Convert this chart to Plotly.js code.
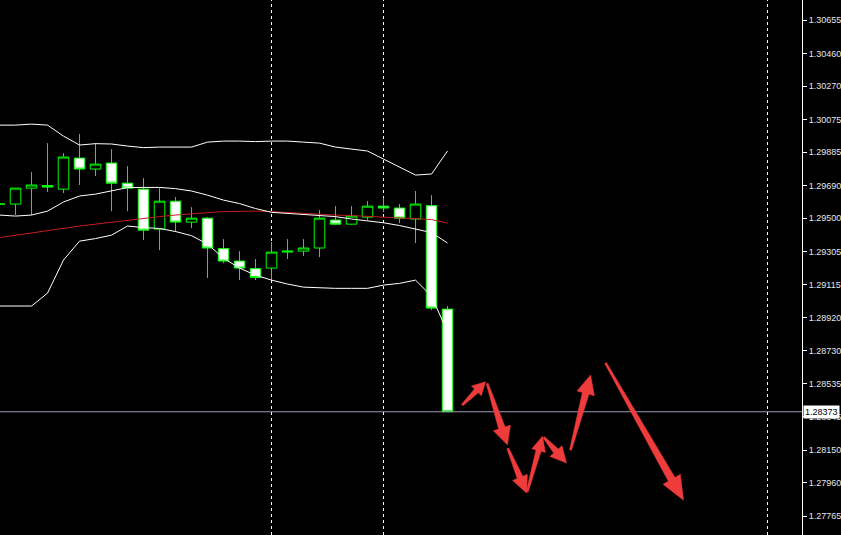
<!DOCTYPE html>
<html>
<head>
<meta charset="utf-8">
<script src="https://cdn.plot.ly/plotly-3.0.1.min.js"></script>
<style>
  html, body { margin: 0; padding: 0; background: #000; }
  #chart { width: 841px; height: 535px; }
</style>
</head>
<body>
<div id="chart"></div>
<script>
// ---- data (bar index, prices) ----
const barIndex = [0,1,2,3,4,5,6,7,8,9,10,11,12,13,14,15,16,17,18,19,20,21,22,23,24,25,26,27,28];
const openP  = [1.29583,1.29583,1.29676,1.29691,1.29670,1.29851,1.29787,1.29822,1.29705,1.29670,1.29437,1.29600,1.29478,1.29501,1.29324,1.29251,1.29207,1.29210,1.29303,1.29309,1.29327,1.29490,1.29466,1.29507,1.29571,1.29560,1.29496,1.29574,1.28971];
const highP  = [1.29595,1.29676,1.29769,1.29938,1.29880,1.29991,1.29938,1.29903,1.29804,1.29734,1.29676,1.29624,1.29565,1.29507,1.29379,1.29309,1.29263,1.29362,1.29379,1.29379,1.29548,1.29571,1.29571,1.29600,1.29618,1.29583,1.29659,1.29635,1.28989];
const lowP   = [1.29571,1.29519,1.29519,1.29653,1.29647,1.29694,1.29746,1.29542,1.29542,1.29373,1.29315,1.29420,1.29443,1.29152,1.29239,1.29140,1.29140,1.29140,1.29263,1.29280,1.29274,1.29461,1.29461,1.29490,1.29536,1.29472,1.29356,1.28965,1.28373];
const closeP = [1.29583,1.29676,1.29694,1.29682,1.29857,1.29787,1.29816,1.29705,1.29676,1.29431,1.29600,1.29478,1.29501,1.29327,1.29251,1.29210,1.29155,1.29303,1.29309,1.29327,1.29501,1.29466,1.29513,1.29571,1.29560,1.29501,1.29583,1.28977,1.28373];

const bbUpper  = [1.30043,1.30043,1.30049,1.30043,1.29979,1.29927,1.29935,1.29933,1.29921,1.29912,1.29915,1.29915,1.29915,1.29944,1.29950,1.29950,1.29947,1.29950,1.29950,1.29944,1.29938,1.29915,1.29903,1.29892,1.29845,1.29799,1.29752,1.29758,1.29892];
const bbMiddle = [1.29519,1.29513,1.29519,1.29542,1.29595,1.29630,1.29641,1.29662,1.29679,1.29680,1.29680,1.29673,1.29659,1.29635,1.29606,1.29586,1.29557,1.29535,1.29529,1.29525,1.29519,1.29510,1.29496,1.29487,1.29474,1.29458,1.29437,1.29417,1.29356];
const bbLower  = [1.28989,1.28989,1.28989,1.29064,1.29257,1.29367,1.29382,1.29402,1.29455,1.29446,1.29441,1.29423,1.29399,1.29350,1.29268,1.29210,1.29169,1.29140,1.29117,1.29099,1.29094,1.29092,1.29092,1.29092,1.29111,1.29121,1.29140,1.29047,1.28837];
const maRed    = [1.29388,1.29402,1.29414,1.29429,1.29443,1.29455,1.29466,1.29478,1.29490,1.29498,1.29510,1.29519,1.29528,1.29533,1.29539,1.29542,1.29542,1.29539,1.29533,1.29528,1.29523,1.29519,1.29516,1.29511,1.29507,1.29503,1.29498,1.29493,1.29472];

const currentPrice = 1.28373;
const currentLabel = "1.28373";
const separatorBars = [17, 24, 48];

const tickValues = [1.30655,1.30460,1.30270,1.30075,1.29885,1.29690,1.29500,1.29305,1.29115,1.28920,1.28730,1.28535,1.28345,1.28150,1.27960,1.27765];
const tickLabels = ["1.30655","1.30460","1.30270","1.30075","1.29885","1.29690","1.29500","1.29305","1.29115","1.28920","1.28730","1.28535","1.28345","1.28150","1.27960","1.27765"];

// hand-drawn red arrows (start -> end, in bar index / price)
const arrowStartK = [28.92, 30.48, 31.77, 32.98, 34.02, 35.69, 37.88];
const arrowStartP = [1.28412, 1.28538, 1.28160, 1.27907, 1.28224, 1.28150, 1.28657];
const arrowEndK   = [30.38, 31.75, 32.94, 33.94, 35.44, 36.94, 42.75];
const arrowEndP   = [1.28548, 1.28179, 1.27899, 1.28231, 1.28074, 1.28587, 1.27858];
const arrowHeadLen = [13, 18, 17, 15, 16, 19, 24];
const arrowHeadHalf = [7, 9, 8, 7, 8, 9, 10];

// ---- layout geometry ----
const W = 841, H = 535, marginR = 39;
const xRange = [0.03, 0.03 + (W - marginR) / 16];
const yRange = [1.27655, 1.30772];
const sx = (W - marginR) / (xRange[1] - xRange[0]);
const sy = H / (yRange[1] - yRange[0]);

function arrowPath(k0, p0, k1, p1, hl, hw) {
  const x0 = k0 * sx, y0 = -p0 * sy, x1 = k1 * sx, y1 = -p1 * sy;
  const dx = x1 - x0, dy = y1 - y0, L = Math.hypot(dx, dy);
  const ux = dx / L, uy = dy / L, nx = -uy, ny = ux;
  const bx = x1 - ux * hl, by = y1 - uy * hl;
  const w0 = 1.0, w1 = hw * 0.38;
  const pts = [
    [x0 + nx * w0, y0 + ny * w0],
    [bx + nx * w1, by + ny * w1],
    [bx + nx * hw, by + ny * hw],
    [x1, y1],
    [bx - nx * hw, by - ny * hw],
    [bx - nx * w1, by - ny * w1],
    [x0 - nx * w0, y0 - ny * w0]
  ];
  return 'M ' + pts.map(p => (p[0] / sx).toFixed(5) + ',' + (-p[1] / sy).toFixed(7)).join(' L ') + ' Z';
}

const traces = [
  {
    type: 'candlestick',
    x: barIndex, open: openP, high: highP, low: lowP, close: closeP,
    increasing: { line: { color: '#00ff00', width: 1 }, fillcolor: '#000000' },
    decreasing: { line: { color: '#00ff00', width: 1 }, fillcolor: '#ffffff' },
    whiskerwidth: 0,
    hoverinfo: 'skip',
    showlegend: false
  },
  { type: 'scatter', mode: 'lines', x: barIndex, y: maRed, line: { color: '#c41e1e', width: 1 }, hoverinfo: 'skip', showlegend: false },
  { type: 'scatter', mode: 'lines', x: barIndex, y: bbUpper, line: { color: '#ffffff', width: 1 }, hoverinfo: 'skip', showlegend: false },
  { type: 'scatter', mode: 'lines', x: barIndex, y: bbMiddle, line: { color: '#ffffff', width: 1 }, hoverinfo: 'skip', showlegend: false },
  { type: 'scatter', mode: 'lines', x: barIndex, y: bbLower, line: { color: '#ffffff', width: 1 }, hoverinfo: 'skip', showlegend: false }
];

const shapes = [];
separatorBars.forEach(k => shapes.push({
  type: 'line', xref: 'x', yref: 'paper', x0: k, x1: k, y0: 0, y1: 1,
  line: { color: '#ffffff', width: 1, dash: '3px,3px' }, layer: 'below'
}));
shapes.push({
  type: 'line', xref: 'paper', yref: 'y', x0: 0, x1: 1, y0: currentPrice, y1: currentPrice,
  line: { color: '#9a9ab4', width: 1 }, layer: 'above'
});
for (let i = 0; i < arrowStartK.length; i++) {
  shapes.push({
    type: 'path', xref: 'x', yref: 'y',
    path: arrowPath(arrowStartK[i], arrowStartP[i], arrowEndK[i], arrowEndP[i], arrowHeadLen[i], arrowHeadHalf[i]),
    fillcolor: '#ee3b3b', line: { color: '#ee3b3b', width: 0.5 }, layer: 'above'
  });
}

const layout = {
  width: W, height: H,
  margin: { l: 0, r: marginR, t: 0, b: 0, pad: 0 },
  paper_bgcolor: '#000000', plot_bgcolor: '#000000',
  showlegend: false,
  boxgap: 0.34, boxgroupgap: 0,
  xaxis: {
    range: xRange, showgrid: false, zeroline: false, showticklabels: false,
    ticks: '', showline: false, rangeslider: { visible: false }, fixedrange: true
  },
  yaxis: {
    side: 'right', range: yRange, showgrid: false, zeroline: false,
    showline: true, linecolor: '#ffffff', linewidth: 1,
    ticks: 'outside', ticklen: 4, tickcolor: '#ffffff', tickwidth: 1,
    tickmode: 'array', tickvals: tickValues, ticktext: tickLabels,
    tickfont: { family: 'Liberation Sans, Arial, sans-serif', size: 9, color: '#e6e6e6' },
    fixedrange: true
  },
  shapes: shapes,
  annotations: [{
    xref: 'paper', yref: 'y', x: 1, y: currentPrice, xanchor: 'left', yanchor: 'middle',
    xshift: 1, showarrow: false, text: currentLabel,
    font: { family: 'Liberation Sans, Arial, sans-serif', size: 9, color: '#000000' },
    bgcolor: '#ffffff', borderpad: 1
  }],
  hovermode: false
};

Plotly.newPlot('chart', traces, layout, { displayModeBar: false, staticPlot: true });
</script>
</body>
</html>
